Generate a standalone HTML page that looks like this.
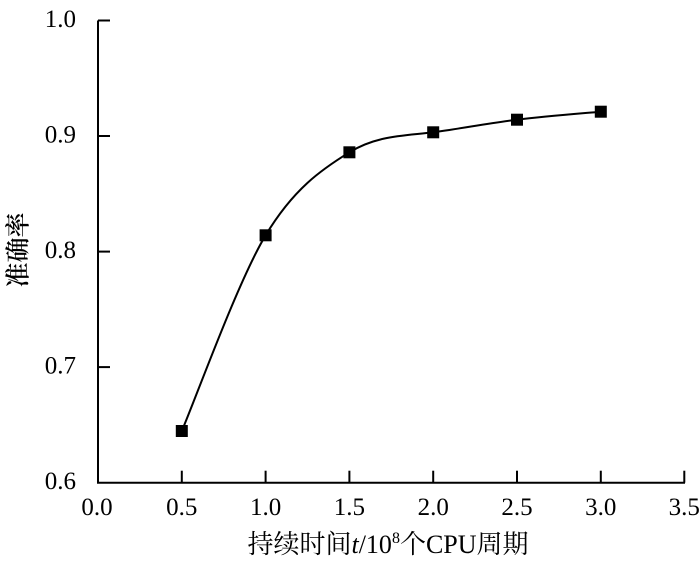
<!DOCTYPE html>
<html>
<head>
<meta charset="utf-8">
<style>
html,body{margin:0;padding:0;background:#fff;}
svg{display:block;}
text{font-family:"Liberation Serif","Noto Serif CJK SC",serif;fill:#000;}
</style>
</head>
<body>
<svg width="700" height="561" viewBox="0 0 700 561" xmlns="http://www.w3.org/2000/svg">
  <!-- axes -->
  <g stroke="#000" stroke-width="2" fill="none">
    <line x1="98" y1="20.5" x2="98" y2="483.5"/>
    <line x1="97" y1="482.7" x2="685" y2="482.7"/>
    <!-- y ticks -->
    <line x1="98" y1="20.5" x2="110" y2="20.5"/>
    <line x1="98" y1="136" x2="110" y2="136"/>
    <line x1="98" y1="251.6" x2="110" y2="251.6"/>
    <line x1="98" y1="367.1" x2="110" y2="367.1"/>
    <!-- x ticks -->
    <line x1="181.8" y1="470.7" x2="181.8" y2="482.7"/>
    <line x1="265.6" y1="470.7" x2="265.6" y2="482.7"/>
    <line x1="349.4" y1="470.7" x2="349.4" y2="482.7"/>
    <line x1="433.2" y1="470.7" x2="433.2" y2="482.7"/>
    <line x1="517" y1="470.7" x2="517" y2="482.7"/>
    <line x1="600.8" y1="470.7" x2="600.8" y2="482.7"/>
    <line x1="684.3" y1="470.7" x2="684.3" y2="482.7"/>
  </g>
  <!-- y labels -->
  <g font-size="25" text-anchor="end">
    <text x="76" y="27">1.0</text>
    <text x="76" y="142.5">0.9</text>
    <text x="76" y="258">0.8</text>
    <text x="76" y="373.5">0.7</text>
    <text x="76" y="489">0.6</text>
  </g>
  <!-- x labels -->
  <g font-size="25" text-anchor="middle">
    <text x="97" y="515">0.0</text>
    <text x="181.8" y="515">0.5</text>
    <text x="265.6" y="515">1.0</text>
    <text x="349.4" y="515">1.5</text>
    <text x="433.2" y="515">2.0</text>
    <text x="517" y="515">2.5</text>
    <text x="600.8" y="515">3.0</text>
    <text x="684.3" y="515">3.5</text>
  </g>
  <!-- curve -->
  <path d="M181.8,431 C195.8,398.4 237.7,281.75 265.6,235.3 C293.5,188.85 321.5,169.5 349.4,152.3 C377.3,135.1 405.3,135.8 433.2,132.3 C461.1,128.6 489.1,123.1 517,119.7 C544.9,116.3 586.8,113 600.8,111.7" stroke="#000" stroke-width="2" fill="none"/>
  <!-- markers -->
  <g fill="#000">
    <rect x="175.8" y="425" width="12" height="12"/>
    <rect x="259.6" y="229.3" width="12" height="12"/>
    <rect x="343.4" y="146.3" width="12" height="12"/>
    <rect x="427.2" y="126.3" width="12" height="12"/>
    <rect x="511" y="113.7" width="12" height="12"/>
    <rect x="594.8" y="105.7" width="12" height="12"/>
  </g>
  <!-- axis titles -->
  <text x="388" y="553" font-size="26" text-anchor="middle">持续时间<tspan font-style="italic">t</tspan>/10<tspan font-size="16" dy="-10">8</tspan><tspan dy="10">个CPU周期</tspan></text>
  <text transform="translate(19,250) rotate(-90)" font-size="25" font-weight="600" text-anchor="middle" dominant-baseline="central">准确率</text>
</svg>
</body>
</html>
